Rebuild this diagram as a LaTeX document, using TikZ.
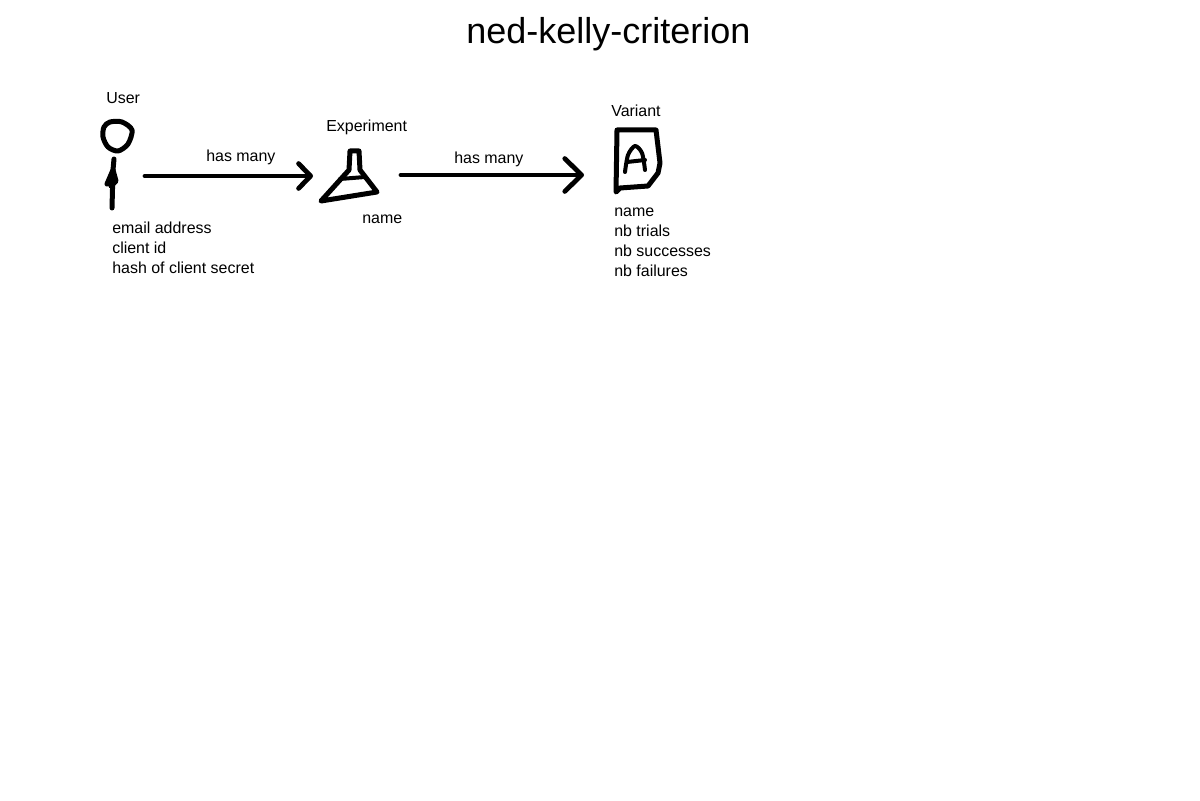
\documentclass[tikz,border=0pt]{standalone}
\usepackage{fontspec}
\setmainfont{Liberation Sans}
\usetikzlibrary{arrows.meta, positioning}
\tikzstyle{titlenode} = [inner sep=0pt, anchor=base west, font=\fontsize{25.6}{30}\selectfont]
\tikzstyle{caption} = [inner sep=0pt, anchor=base west, font=\fontsize{11.35}{14.2}\selectfont]
\tikzstyle{attrs} = [inner sep=0pt, anchor=north west, align=left, font=\fontsize{11.35}{14.2}\selectfont]
\tikzstyle{sketch} = [line width=0.125cm, line join=round, line cap=round]
\tikzstyle{thinsketch} = [line width=0.1cm, line join=round, line cap=round]
\tikzstyle{connector} = [line width=0.12cm, line cap=round]

\begin{document}
\begin{tikzpicture}[x=0.025cm, y=-0.025cm]

  \useasboundingbox (0,0) rectangle (1200,800);

  % Title
  \node (title) at (466,44) [titlenode] {ned-kelly-criterion};

  % User
  \node (user) at (106,104) [caption] {User};
  \draw[sketch] plot[smooth cycle, tension=0.5] coordinates {(110,122) (122,122) (132,130) (128,144) (118,151) (108,147) (103,137) (104,127)};
  \draw[sketch] (114,159) -- (113,170) -- (112,208);
  \draw[sketch] (107,184) -- (113,170) -- (116,181) -- (111,186);
  \node (userattrs) at (112,222) [attrs] {email address\\client id\\hash of client secret};

  % Experiment
  \node (experiment) at (326,132) [caption] {Experiment};
  \draw[sketch] (350,151) -- (359,151) -- (360,170) -- (377,192) -- (321,201) -- (349,170) -- cycle;
  \draw[thinsketch] (340,179) -- (365,177);
  \node (expname) at (362,223) [caption] {name};

  % Variant
  \node (variant) at (611,117) [caption] {Variant};
  \draw[sketch] (616,192) -- (617,130) -- (656,130) -- (660,163) -- (658,173) -- (648,186) -- (620,188) -- cycle;
  \draw[thinsketch] plot[smooth, tension=0.5] coordinates {(625,172) (628,155) (635,146) (642,153) (645,170)};
  \draw[thinsketch] (627,162) -- (645,160);
  \node (variantattrs) at (614,208) [attrs] {name\\nb trials\\nb successes\\nb failures};

  % Arrows
  \coordinate (userout) at (145,176);
  \coordinate (expin) at (313,176);
  \coordinate (expout) at (401,175);
  \coordinate (variantin) at (584,175);
  \draw[connector, -{Straight Barb[length=0.3cm, width=0.62cm, line width=0.12cm, round]}] (userout) -- (expin);
  \draw[connector, -{Straight Barb[length=0.42cm, width=0.82cm, line width=0.12cm, round]}] (expout) -- (variantin);

  \node (hasmanya) at (206,162) [caption] {has many};
  \node (hasmanyb) at (454,164) [caption] {has many};

\end{tikzpicture}
\end{document}
